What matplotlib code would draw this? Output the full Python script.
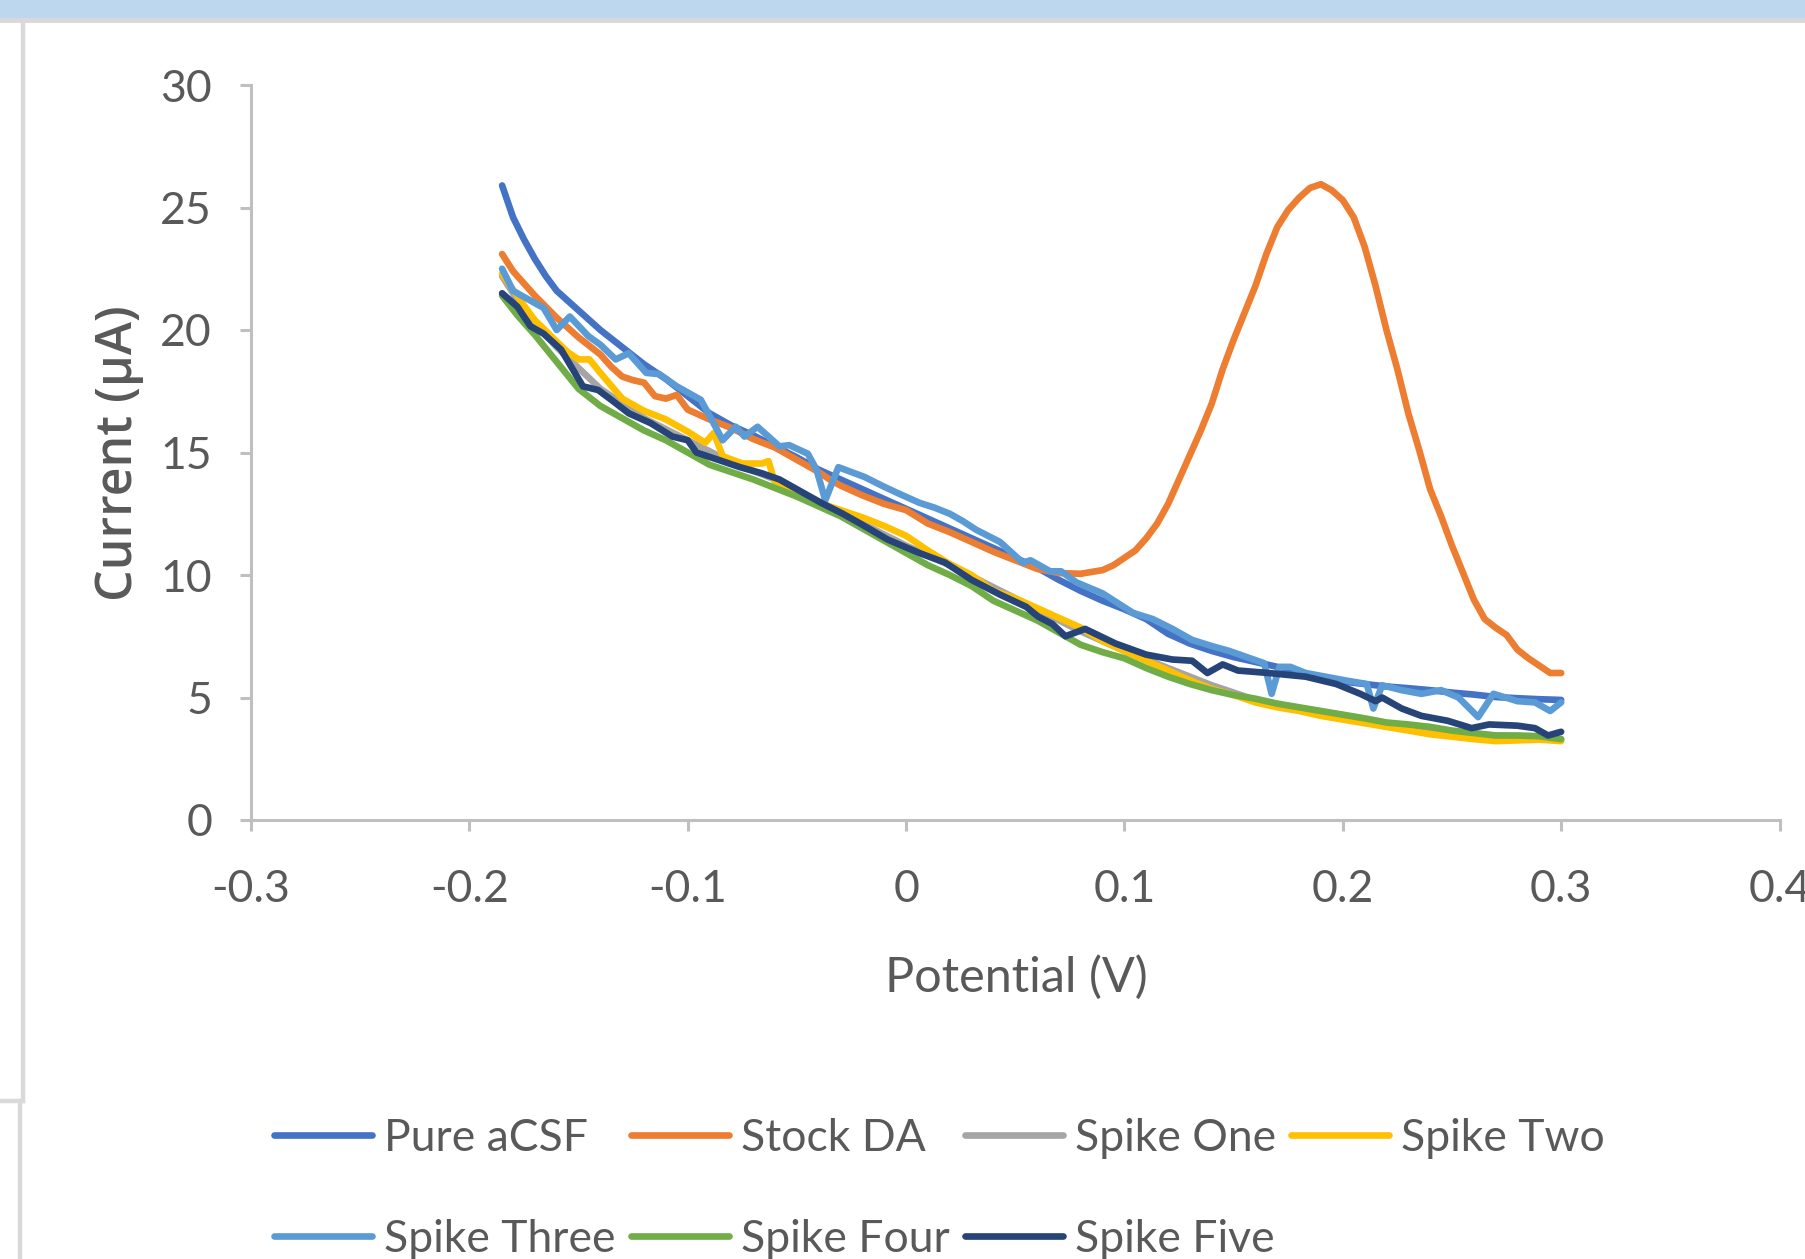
import matplotlib
matplotlib.use("Agg")
import matplotlib.pyplot as plt
from matplotlib.lines import Line2D
from matplotlib.patches import Rectangle

plt.rcParams["font.family"] = ["Lato", "DejaVu Sans"]

# series data (potential in V, current in uA)
pure_x = [-0.185, -0.18, -0.175, -0.17, -0.165, -0.16, -0.15, -0.14, -0.13, -0.12, -0.11, -0.10,
          -0.09, -0.08, -0.07, -0.06, -0.05, -0.04, -0.03, -0.02, -0.01, 0.0, 0.01, 0.02, 0.03,
          0.04, 0.05, 0.06, 0.07, 0.08, 0.09, 0.10, 0.11, 0.12, 0.13, 0.14, 0.15, 0.16, 0.17,
          0.18, 0.19, 0.20, 0.21, 0.22, 0.23, 0.24, 0.25, 0.26, 0.27, 0.28, 0.29, 0.30]
pure_y = [25.9, 24.6, 23.7, 22.9, 22.2, 21.6, 20.8, 20.0, 19.3, 18.6, 18.0, 17.3,
          16.6, 16.1, 15.7, 15.25, 14.8, 14.3, 13.9, 13.5, 13.1, 12.7, 12.3, 11.9, 11.5,
          11.1, 10.7, 10.3, 9.8, 9.35, 8.95, 8.6, 8.2, 7.6, 7.2, 6.9, 6.65, 6.45, 6.25,
          6.0, 5.8, 5.65, 5.55, 5.45, 5.38, 5.3, 5.2, 5.12, 5.02, 4.97, 4.93, 4.9]

stock_x = [-0.185, -0.18, -0.175, -0.17, -0.16, -0.155, -0.15, -0.14, -0.135, -0.13, -0.125, -0.12,
           -0.115, -0.11, -0.105, -0.10, -0.09, -0.08, -0.07, -0.06, -0.05, -0.04, -0.035, -0.03,
           -0.02, -0.01, 0.0, 0.01, 0.02, 0.03, 0.04, 0.05, 0.06, 0.07, 0.08, 0.09, 0.095, 0.10,
           0.105, 0.11, 0.115, 0.12, 0.125, 0.13, 0.135, 0.14, 0.145, 0.15, 0.155, 0.16, 0.165,
           0.17, 0.175, 0.18, 0.185, 0.19, 0.195, 0.20, 0.205, 0.21, 0.215, 0.22, 0.225, 0.23,
           0.235, 0.24, 0.245, 0.25, 0.255, 0.26, 0.265, 0.27, 0.275, 0.28, 0.285, 0.29, 0.295, 0.30]
stock_y = [23.1, 22.4, 21.9, 21.4, 20.5, 20.1, 19.7, 19.0, 18.5, 18.1, 17.95, 17.85,
           17.3, 17.2, 17.35, 16.75, 16.35, 16.0, 15.55, 15.2, 14.7, 14.2, 13.9, 13.65,
           13.25, 12.9, 12.65, 12.1, 11.75, 11.35, 10.95, 10.6, 10.25, 10.08, 10.05, 10.2, 10.4, 10.7,
           11.0, 11.5, 12.1, 12.9, 13.9, 14.9, 15.9, 17.0, 18.4, 19.6, 20.7, 21.8, 23.1,
           24.2, 24.9, 25.4, 25.8, 25.95, 25.7, 25.3, 24.6, 23.4, 21.8, 20.0, 18.4, 16.6,
           15.1, 13.5, 12.4, 11.2, 10.1, 9.0, 8.2, 7.85, 7.55, 6.95, 6.6, 6.3, 6.0, 6.0]

one_x = [-0.185, -0.175, -0.16, -0.14, -0.12, -0.10, -0.08, -0.06, -0.04, -0.02, 0.0, 0.02, 0.04,
         0.06, 0.08, 0.10, 0.12, 0.14, 0.16, 0.18, 0.20, 0.22, 0.24, 0.26, 0.28, 0.30]
one_y = [22.2, 20.8, 19.3, 17.6, 16.4, 15.5, 14.6, 13.9, 13.0, 12.1, 11.2, 10.4, 9.5,
         8.6, 7.7, 6.9, 6.2, 5.5, 4.9, 4.5, 4.2, 3.9, 3.7, 3.5, 3.4, 3.3]

two_x = [-0.185, -0.182, -0.175, -0.17, -0.162, -0.155, -0.15, -0.145, -0.14, -0.13, -0.12, -0.11,
         -0.10, -0.092, -0.088, -0.084, -0.075, -0.066, -0.063, -0.06, -0.05, -0.04, -0.03, -0.02,
         -0.01, 0.0, 0.01, 0.02, 0.03, 0.04, 0.05, 0.06, 0.07, 0.08, 0.09, 0.10, 0.11, 0.12, 0.13,
         0.14, 0.15, 0.16, 0.17, 0.18, 0.19, 0.20, 0.21, 0.22, 0.23, 0.24, 0.25, 0.26, 0.27, 0.28,
         0.29, 0.30]
two_y = [22.3, 21.9, 21.0, 20.4, 19.7, 19.1, 18.8, 18.8, 18.25, 17.2, 16.7, 16.35,
         15.85, 15.4, 15.8, 14.85, 14.55, 14.55, 14.65, 13.75, 13.35, 12.95, 12.65, 12.35,
         12.0, 11.6, 11.0, 10.45, 10.0, 9.35, 9.05, 8.65, 8.25, 7.85, 7.3, 6.9, 6.5, 6.1, 5.7,
         5.35, 5.1, 4.8, 4.6, 4.45, 4.25, 4.1, 3.95, 3.8, 3.65, 3.5, 3.4, 3.3, 3.22, 3.25,
         3.28, 3.22]

three_x = [-0.185, -0.18, -0.172, -0.166, -0.16, -0.154, -0.1455, -0.14, -0.133, -0.127, -0.119,
           -0.113, -0.105, -0.094, -0.09, -0.084, -0.078, -0.074, -0.068, -0.058, -0.0535, -0.045,
           -0.041, -0.037, -0.031, -0.025, -0.019, -0.01, -0.004, 0.006, 0.013, 0.02, 0.026, 0.032,
           0.043, 0.0535, 0.057, 0.066, 0.071, 0.078, 0.09, 0.104, 0.113, 0.122, 0.131, 0.14, 0.148,
           0.156, 0.164, 0.1674, 0.171, 0.176, 0.183, 0.192, 0.201, 0.211, 0.214, 0.218, 0.227,
           0.236, 0.245, 0.253, 0.262, 0.269, 0.28, 0.288, 0.295, 0.30]
three_y = [22.5, 21.6, 21.2, 20.9, 20.0, 20.55, 19.75, 19.4, 18.8, 19.05, 18.25,
           18.2, 17.7, 17.15, 16.5, 15.5, 16.05, 15.65, 16.05, 15.25, 15.3, 14.95,
           14.3, 13.05, 14.4, 14.2, 14.0, 13.6, 13.35, 12.95, 12.75, 12.5, 12.2, 11.85,
           11.35, 10.5, 10.6, 10.15, 10.15, 9.7, 9.25, 8.45, 8.2, 7.8, 7.35, 7.1, 6.9,
           6.65, 6.4, 5.15, 6.25, 6.25, 6.0, 5.85, 5.7, 5.55, 4.55, 5.5, 5.3,
           5.15, 5.3, 5.0, 4.2, 5.15, 4.85, 4.8, 4.45, 4.8]

four_x = [-0.185, -0.178, -0.17, -0.16, -0.15, -0.14, -0.13, -0.12, -0.11, -0.10, -0.09, -0.08,
          -0.07, -0.06, -0.05, -0.04, -0.03, -0.02, -0.01, 0.0, 0.01, 0.02, 0.03, 0.04, 0.05, 0.06,
          0.07, 0.08, 0.09, 0.10, 0.11, 0.12, 0.13, 0.14, 0.15, 0.16, 0.17, 0.18, 0.19, 0.20, 0.21,
          0.22, 0.23, 0.24, 0.25, 0.26, 0.27, 0.28, 0.29, 0.30]
four_y = [21.4, 20.6, 19.8, 18.7, 17.6, 16.9, 16.4, 15.9, 15.5, 15.0, 14.5, 14.2,
          13.9, 13.55, 13.2, 12.8, 12.4, 11.9, 11.4, 10.9, 10.4, 10.0, 9.55, 8.95, 8.55, 8.15,
          7.65, 7.15, 6.85, 6.6, 6.2, 5.85, 5.55, 5.3, 5.1, 4.95, 4.75, 4.6, 4.45, 4.3, 4.15,
          3.98, 3.9, 3.8, 3.65, 3.55, 3.45, 3.45, 3.42, 3.3]

five_x = [-0.185, -0.178, -0.172, -0.166, -0.158, -0.148, -0.141, -0.135, -0.127, -0.117, -0.107,
          -0.1, -0.096, -0.086, -0.076, -0.066, -0.058, -0.049, -0.039, -0.029, -0.021, -0.0085,
          0.006, 0.018, 0.03, 0.043, 0.055, 0.0605, 0.067, 0.073, 0.082, 0.096, 0.11, 0.122, 0.131,
          0.138, 0.145, 0.152, 0.166, 0.183, 0.197, 0.208, 0.215, 0.218, 0.227, 0.236, 0.248,
          0.259, 0.267, 0.28, 0.288, 0.294, 0.30]
five_y = [21.5, 20.95, 20.15, 19.85, 19.2, 17.7, 17.55, 17.15, 16.6, 16.2, 15.65,
          15.5, 15.0, 14.7, 14.4, 14.15, 13.9, 13.45, 12.95, 12.5, 12.1, 11.45,
          10.9, 10.5, 9.8, 9.2, 8.7, 8.3, 8.0, 7.5, 7.8, 7.2, 6.75, 6.55, 6.5,
          6.0, 6.35, 6.1, 6.0, 5.85, 5.55, 5.15, 4.85, 5.0, 4.55, 4.25, 4.05,
          3.75, 3.9, 3.85, 3.75, 3.45, 3.6]

labels = ["Pure aCSF", "Stock DA", "Spike One", "Spike Two",
          "Spike Three", "Spike Four", "Spike Five"]
colors = ["#4472C4", "#ED7D31", "#A5A5A5", "#FFC000", "#5B9BD5", "#70AD47", "#264478"]
xs = [pure_x, stock_x, one_x, two_x, three_x, four_x, five_x]
ys = [pure_y, stock_y, one_y, two_y, three_y, four_y, five_y]

W, H = 1806, 1259
fig = plt.figure(figsize=(W / 100, H / 100), dpi=100)

# screenshot frame bits
fig.patches.append(Rectangle((0, 1 - 19 / H), 1, 19 / H, transform=fig.transFigure,
                             color="#BDD7EE", zorder=0))
fig.add_artist(Line2D([0, 1], [1 - 20 / H, 1 - 20 / H], color="#D9D9D9", lw=3.5))
fig.add_artist(Line2D([23 / W, 23 / W], [1 - 20 / H, 1 - 1101 / H], color="#D9D9D9", lw=3.2))
fig.add_artist(Line2D([0, 23 / W], [1 - 1101 / H, 1 - 1101 / H], color="#D9D9D9", lw=3.2))
fig.add_artist(Line2D([20 / W, 20 / W], [1 - 1101 / H, 0], color="#D9D9D9", lw=3.2))

left, right = 251 / W, 1779.5 / W
bottom, top = 1 - 820 / H, 1 - 85 / H
ax = fig.add_axes([left, bottom, right - left, top - bottom])

lines = []
for x, y, lab, c in zip(xs, ys, labels, colors):
    ln, = ax.plot(x, y, color=c, lw=4.8, label=lab, solid_joinstyle="round",
                  solid_capstyle="round")
    lines.append(ln)

ax.set_xlim(-0.3, 0.4)
ax.set_ylim(0, 30)
ax.set_xticks([-0.3, -0.2, -0.1, 0, 0.1, 0.2, 0.3, 0.4])
ax.set_xticklabels(["-0.3", "-0.2", "-0.1", "0", "0.1", "0.2", "0.3", "0.4"])
ax.set_yticks([0, 5, 10, 15, 20, 25, 30])

for s in ["top", "right"]:
    ax.spines[s].set_visible(False)
for s in ["left", "bottom"]:
    ax.spines[s].set_color("#BFBFBF")
    ax.spines[s].set_linewidth(2.2)
ax.tick_params(axis="both", colors="#BFBFBF", width=2.2, length=8, labelcolor="#595959",
               labelsize=32)
ax.tick_params(axis="y", pad=20)
ax.tick_params(axis="x", pad=27)

fig.text(1016 / W, 1 - 977 / H, "Potential (V)", ha="center", va="center",
         fontsize=35, color="#595959")
fig.text(119 / W, 1 - 453 / H, "Current (µA)", ha="center", va="center", rotation=90,
         fontsize=36, color="#595959", family=["Open Sans", "DejaVu Sans"], fontweight="semibold")

# legend is filled column by column, so order entries to read row by row
order = [0, 4, 1, 5, 2, 6, 3]
fig.legend([lines[i] for i in order], [labels[i] for i in order], ncol=4, loc="upper left",
           bbox_to_anchor=(274 / W, 1 - 1118 / H), frameon=False, fontsize=32,
           handlelength=2.2, handletextpad=0.27, columnspacing=0.35, labelspacing=1.34,
           borderpad=0, borderaxespad=0, labelcolor="#595959")

fig.savefig("out.png", dpi=100)
